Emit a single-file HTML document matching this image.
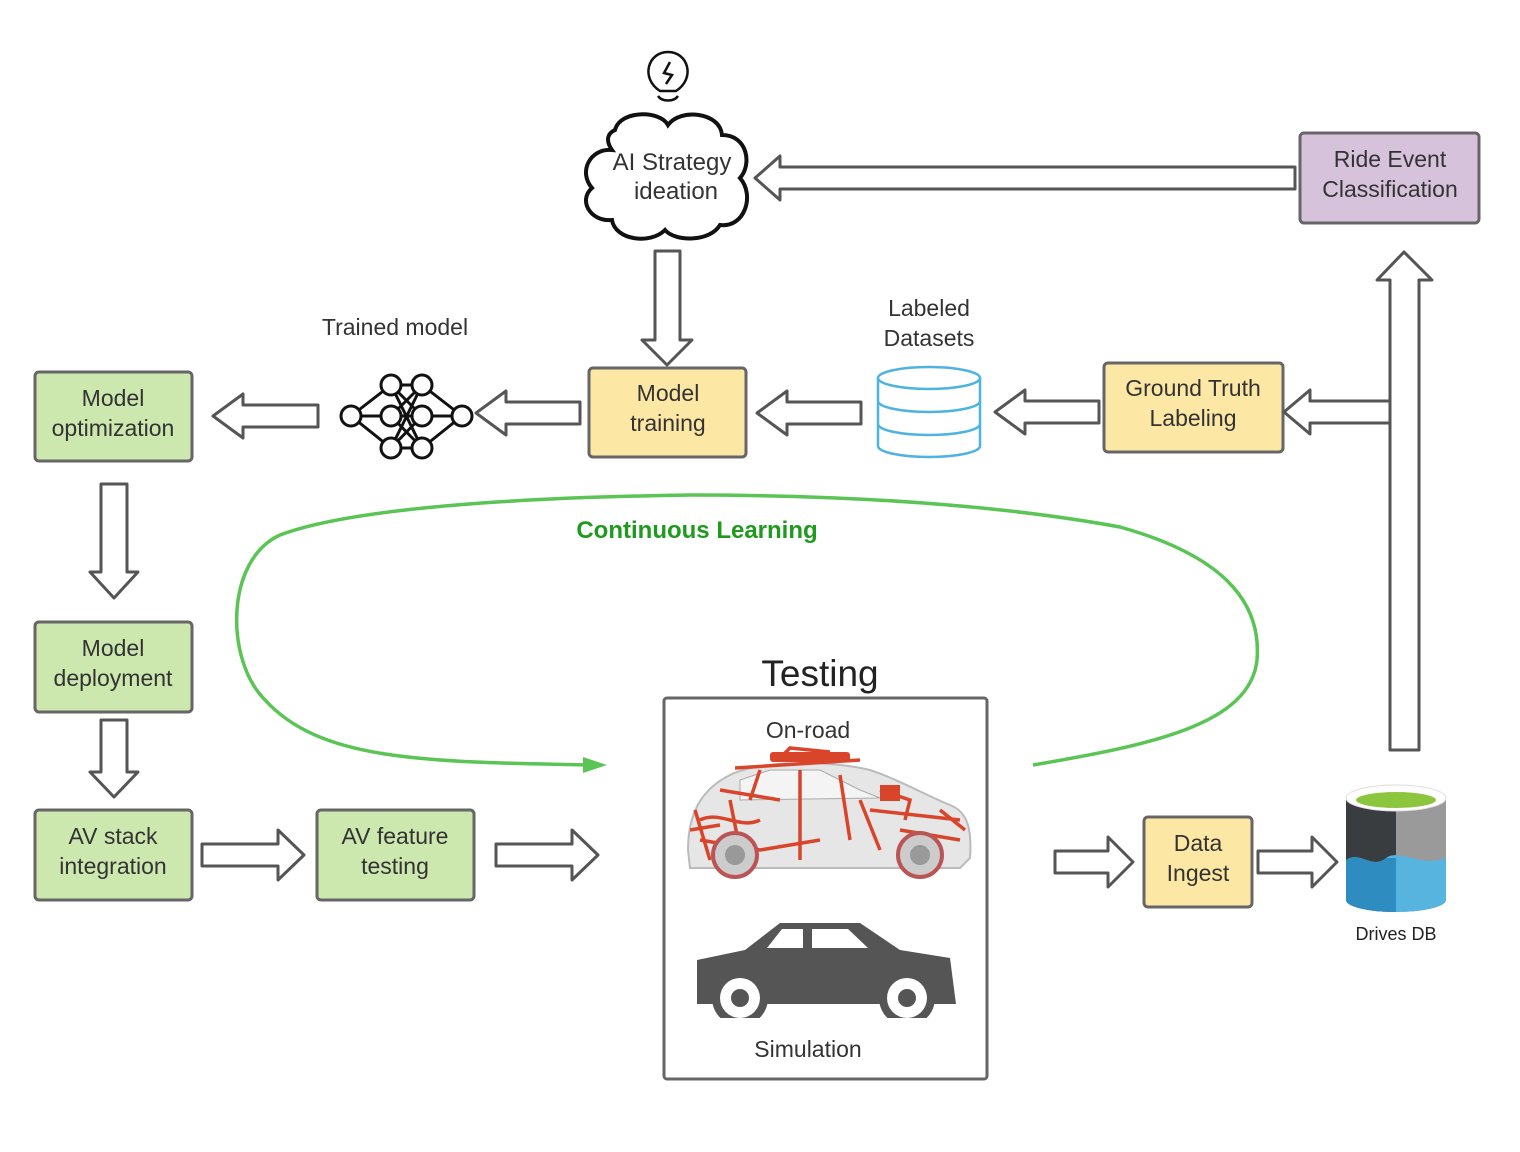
<!DOCTYPE html>
<html><head><meta charset="utf-8"><style>
html,body{margin:0;padding:0;background:#fff}
svg{display:block}
text{font-family:"Liberation Sans",sans-serif;fill:#333}
</style></head><body>
<svg width="1520" height="1152" viewBox="0 0 1520 1152" xmlns="http://www.w3.org/2000/svg">
<defs>
<style>.ar{fill:#fff;stroke:#555;stroke-width:3;stroke-linejoin:round}
.bx{stroke:#666;stroke-width:3}
.t{font-size:23px;text-anchor:middle}</style>
</defs>

<rect class="bx" x="35" y="372" width="157" height="89" rx="4" fill="#cde8ae"/>
<text class="t" x="113" y="406">Model</text><text class="t" x="113" y="436">optimization</text>
<rect class="bx" x="35" y="622" width="157" height="90" rx="4" fill="#cde8ae"/>
<text class="t" x="113" y="656">Model</text><text class="t" x="113" y="686">deployment</text>
<rect class="bx" x="35" y="810" width="157" height="90" rx="4" fill="#cde8ae"/>
<text class="t" x="113" y="844">AV stack</text><text class="t" x="113" y="874">integration</text>
<rect class="bx" x="317" y="810" width="157" height="90" rx="4" fill="#cde8ae"/>
<text class="t" x="395" y="844">AV feature</text><text class="t" x="395" y="874">testing</text>
<rect class="bx" x="589" y="368" width="157" height="89" rx="4" fill="#fce8a4"/>
<text class="t" x="668" y="401">Model</text><text class="t" x="668" y="431">training</text>
<rect class="bx" x="1104" y="363" width="179" height="89" rx="4" fill="#fce8a4"/>
<text class="t" x="1193" y="396">Ground Truth</text><text class="t" x="1193" y="426">Labeling</text>
<rect class="bx" x="1144" y="817" width="108" height="90" rx="4" fill="#fce8a4"/>
<text class="t" x="1198" y="851">Data</text><text class="t" x="1198" y="881">Ingest</text>
<rect class="bx" x="1300" y="133" width="179" height="90" rx="4" fill="#d7c2dc"/>
<text class="t" x="1390" y="167">Ride Event</text><text class="t" x="1390" y="197">Classification</text>

<path class="ar" d="M213,416 L243,394 L243,405 L318,405 L318,427 L243,427 L243,438 Z"/>
<path class="ar" d="M476,413 L506,391 L506,402 L580,402 L580,424 L506,424 L506,435 Z"/>
<path class="ar" d="M757,413 L787,391 L787,402 L861,402 L861,424 L787,424 L787,435 Z"/>
<path class="ar" d="M995,412 L1025,390 L1025,401 L1099,401 L1099,423 L1025,423 L1025,434 Z"/>
<path class="ar" d="M1284,412 L1310,390 L1310,401 L1390,401 L1390,423 L1310,423 L1310,434 Z"/>
<path class="ar" d="M755,178 L780,156 L780,167 L1295,167 L1295,189 L780,189 L780,200 Z"/>
<path class="ar" d="M655,251 L680,251 L680,340 L692,340 L667,365 L642,340 L655,340 Z"/>
<path class="ar" d="M1390,750 L1390,280 L1377,280 L1404,252 L1432,280 L1419,280 L1419,750 Z"/>
<path class="ar" d="M101,484 L127,484 L127,572 L138,572 L114,598 L90,572 L101,572 Z"/>
<path class="ar" d="M101,720 L127,720 L127,772 L138,772 L114,797 L90,772 L101,772 Z"/>
<path class="ar" d="M202,844 L278,844 L278,830 L304,855 L278,880 L278,866 L202,866 Z"/>
<path class="ar" d="M496,844 L572,844 L572,830 L598,855 L572,880 L572,866 L496,866 Z"/>
<path class="ar" d="M1055,851 L1108,851 L1108,837 L1133,862 L1108,887 L1108,873 L1055,873 Z"/>
<path class="ar" d="M1258,851 L1312,851 L1312,837 L1337,862 L1312,887 L1312,873 L1258,873 Z"/>

<text x="395" y="335" class="t" style="font-size:23px">Trained model</text>
<text x="929" y="316" class="t" style="font-size:23px">Labeled</text>
<text x="929" y="346" class="t" style="font-size:23px">Datasets</text>

<g stroke="#111" stroke-width="3" fill="none">
<path d="M351,416 L391,385 M351,416 L391,416 M351,416 L391,448 M391,385 L422,385 M391,385 L422,416 M391,385 L422,448 M391,416 L422,385 M391,416 L422,416 M391,416 L422,448 M391,448 L422,385 M391,448 L422,416 M391,448 L422,448 M422,385 L462,416 M422,416 L462,416 M422,448 L462,416"/>
</g>
<g stroke="#111" stroke-width="3" fill="#fff">
<circle cx="351" cy="416" r="10"/><circle cx="462" cy="416" r="10"/>
<circle cx="391" cy="385" r="10"/><circle cx="391" cy="416" r="10"/><circle cx="391" cy="448" r="10"/>
<circle cx="422" cy="385" r="10"/><circle cx="422" cy="416" r="10"/><circle cx="422" cy="448" r="10"/>
</g>

<g stroke="#4fb3e0" stroke-width="2.5" fill="#fff">
<path d="M878,378 L878,446 A51,11 0 0 0 980,446 L980,378"/>
<ellipse cx="929" cy="378" rx="51" ry="11"/>
<path d="M878,401 A51,11 0 0 0 980,401" fill="none"/>
<path d="M878,424 A51,11 0 0 0 980,424" fill="none"/>
</g>

<path d="M615,130 C620,110 660,110 668,125 C680,108 720,112 722,135 C748,135 752,165 740,178 C755,195 745,228 720,225 C710,242 675,242 665,230 C650,245 615,240 612,220 C590,222 578,200 592,188 C578,172 590,148 612,150 C605,140 608,133 615,130 Z" fill="#fff" stroke="#111" stroke-width="4"/>
<text class="t" x="672" y="170" style="font-size:24px">AI Strategy</text><text class="t" x="676" y="199" style="font-size:24px">ideation</text>
<g stroke="#111" stroke-width="2.5" fill="none">
<path d="M660,91 C640,78 648,52 668,52 C688,52 696,78 676,91 Z"/>
<path d="M670,62 L664,73 L672,75 L666,84"/>
<path d="M658,96 C662,102 674,102 678,96"/>
</g>

<path d="M1033,765 C1150,745 1250,725 1257,660 C1262,600 1220,555 1120,527 C1000,505 850,495 690,495 C550,497 360,505 280,535 C225,560 225,660 265,700 C320,760 420,762 590,765" fill="none" stroke="#5ac454" stroke-width="3.5"/>
<path d="M607,765 L583,757 L583,773 Z" fill="#5ac454"/>
<text x="697" y="538" style="font-size:24px;font-weight:bold;fill:#1f9a1f" text-anchor="middle">Continuous Learning</text>

<text x="820" y="686" style="font-size:37px;fill:#222" text-anchor="middle">Testing</text>
<rect x="664" y="698" width="323" height="381" fill="#fff" stroke="#666" stroke-width="3" rx="3"/>
<text class="t" x="808" y="738">On-road</text>
<text class="t" x="808" y="1057">Simulation</text>
<g>
<path d="M688,850 C688,815 700,790 730,775 C760,760 830,760 870,770 C900,780 925,795 950,805 C968,812 972,830 970,858 L960,868 L690,868 Z" fill="#e6e6e6" stroke="#bbb" stroke-width="2"/>
<path d="M740,780 L770,770 L820,770 L860,790 L880,798 L740,800 Z" fill="#f4f4f4" stroke="#aaa"/>
<g stroke="#d9452b" stroke-width="3.5" fill="none">
<path d="M735,768 L860,760 M780,758 L790,748 L830,752 M700,820 C720,810 740,830 760,820 M880,790 L910,800 L905,820 M700,840 L760,850 L820,840 M900,830 L960,840 M730,800 L740,850 M860,800 L880,850 M695,810 L710,860 M760,770 L750,800 M800,770 L800,860 M840,775 L850,840 M690,830 L720,825 M940,810 L965,830 M870,810 L960,820 M720,790 L780,800"/>
</g>
<g fill="#d9452b"><rect x="770" y="752" width="80" height="10" rx="3"/><rect x="880" y="785" width="20" height="16"/></g>
<circle cx="735" cy="855" r="22" fill="#ccc" stroke="#b55" stroke-width="4"/>
<circle cx="920" cy="855" r="22" fill="#ccc" stroke="#b55" stroke-width="4"/>
<circle cx="735" cy="855" r="10" fill="#999"/><circle cx="920" cy="855" r="10" fill="#999"/>
</g>
<g>
<path d="M697,960 L745,950 L780,923 L860,923 L900,950 L950,958 L956,1004 L697,1004 Z" fill="#555"/>
<path d="M767,948 L782,929 L803,929 L803,948 Z M812,948 L812,929 L848,929 L868,948 Z" fill="#fff"/>
<rect x="697" y="1004" width="260" height="14" fill="#fff"/>
<circle cx="740" cy="998" r="28" fill="#555"/><circle cx="740" cy="998" r="20" fill="#fff"/><circle cx="740" cy="998" r="9" fill="#555"/>
<circle cx="907" cy="998" r="28" fill="#555"/><circle cx="907" cy="998" r="20" fill="#fff"/><circle cx="907" cy="998" r="9" fill="#555"/>
<rect x="697" y="1018" width="260" height="10" fill="#fff"/>
</g>

<g>
<path d="M1346,800 L1346,900 A50,12 0 0 0 1446,900 L1446,800 Z" fill="#9a9a9a"/>
<path d="M1346,800 L1346,900 A50,12 0 0 0 1396,912 L1396,800 Z" fill="#3a3d40"/>
<path d="M1346,860 C1360,850 1372,870 1386,858 C1400,848 1420,868 1446,858 L1446,900 A50,12 0 0 1 1346,900 Z" fill="#56b4de"/>
<path d="M1346,860 C1360,850 1372,870 1386,858 L1396,858 L1396,912 A50,12 0 0 1 1346,900 Z" fill="#2f8cc0"/>
<ellipse cx="1396" cy="798" rx="50" ry="13" fill="#fff" stroke="#ddd"/>
<ellipse cx="1396" cy="800" rx="40" ry="8" fill="#8cc63f"/>
</g>
<text x="1396" y="940" style="font-size:18px;fill:#222" text-anchor="middle">Drives DB</text>
</svg>
</body></html>
